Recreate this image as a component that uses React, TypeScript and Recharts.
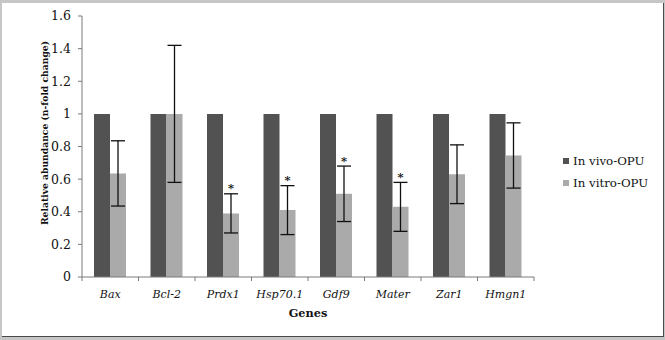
import React from 'react';
import { BarChart, Bar, XAxis, YAxis, ErrorBar, LabelList, Legend } from 'recharts';

// Relative abundance of transcripts (fold change vs. in vivo-OPU)
const genes = ['Bax', 'Bcl-2', 'Prdx1', 'Hsp70.1', 'Gdf9', 'Mater', 'Zar1', 'Hmgn1'];
const inVivo = [1, 1, 1, 1, 1, 1, 1, 1];
const inVitro = [0.635, 1.0, 0.39, 0.41, 0.51, 0.43, 0.63, 0.745];
const inVitroErr = [0.2, 0.42, 0.12, 0.15, 0.17, 0.15, 0.18, 0.2];
const significant = [false, false, true, true, true, true, false, false];

const yTicks = [0, 0.2, 0.4, 0.6, 0.8, 1, 1.2, 1.4, 1.6];
const yTickLabels = ['0', '0.2', '0.4', '0.6', '0.8', '1', '1.2', '1.4', '1.6'];

const seriesNames = ['In vivo-OPU', 'In vitro-OPU'];
const DARK = '#525252';
const LIGHT = '#aaaaaa';
const AXIS = '#7a7a7a';
const FONT = 'DejaVu Serif';

const data = genes.map((g, i) => ({
  gene: g,
  vivo: inVivo[i],
  vitro: inVitro[i],
  err: inVitroErr[i],
}));

// Category tick: italic gene name plus boundary tick marks between groups
const GeneTick = (props: any) => {
  const { x, y, payload, index } = props;
  const half = payload?.offset ?? 0;
  const last = index === genes.length - 1;
  return (
    <g>
      <line x1={x - half} x2={x - half} y1={y} y2={y + 4} stroke={AXIS} strokeWidth={1} />
      {last && <line x1={x + half} x2={x + half} y1={y} y2={y + 4} stroke={AXIS} strokeWidth={1} />}
      <text
        x={x}
        y={y + 13}
        dy="0.71em"
        textAnchor="middle"
        style={{ fontFamily: FONT, fontStyle: 'italic', fontSize: 11 }}
        fill="#111"
      >
        {payload.value}
      </text>
    </g>
  );
};

// Asterisk placed just above the upper whisker of significant bars
const Star = (props: any) => {
  const vb = props.viewBox ?? props;
  const index = props.index;
  if (!significant[index]) return null;
  const value = inVitro[index];
  const x = vb.x;
  const w = vb.width;
  const top = Math.min(vb.y, vb.y + vb.height);
  const h = Math.abs(vb.height);
  const bottom = top + h;
  const perUnit = h / value;
  const whiskerTop = bottom - (value + inVitroErr[index]) * perUnit;
  return (
    <text
      x={x + w / 2}
      y={whiskerTop - 1.5}
      textAnchor="middle"
      style={{ fontFamily: FONT, fontWeight: 'bold', fontSize: 11.5 }}
      fill="#111"
    >
      *
    </text>
  );
};

const LegendBox = () => (
  <div style={{ fontFamily: FONT, fontSize: 11.8, color: '#111' }}>
    {seriesNames.map((name, i) => (
      <div key={name} style={{ display: 'flex', alignItems: 'center', height: 22 }}>
        <span
          style={{
            display: 'inline-block',
            width: 6,
            height: 6,
            background: i === 0 ? DARK : LIGHT,
            marginRight: 4,
          }}
        />
        <span>{name}</span>
      </div>
    ))}
  </div>
);

export default function App() {
  return (
    <div style={{ position: 'absolute', left: 0, top: 0, width: 665, height: 340, background: '#c6c6c6', fontFamily: FONT }}>
      <div
        style={{
          position: 'absolute',
          left: 2,
          top: 3,
          width: 661,
          height: 333,
          background: '#fff',
          borderRight: '1px solid #4a4a4a',
          borderBottom: '1px solid #4a4a4a',
        }}
      />
      <div style={{ position: 'absolute', left: 0, top: 0 }}>
        <BarChart
          width={665}
          height={340}
          data={data}
          margin={{ top: 16, right: 131, bottom: 0, left: 0 }}
          barGap={0}
          barSize={16}
          style={{ fontFamily: FONT }}
        >
          <XAxis
            dataKey="gene"
            height={63}
            stroke={AXIS}
            tickLine={false}
            tickSize={0}
            tickMargin={0}
            tick={<GeneTick />}
            interval={0}
            label={{
              content: (p: any) => {
                const vb = p.viewBox;
                return (
                  <text
                    x={vb.x + vb.width / 2}
                    y={vb.y + 40}
                    textAnchor="middle"
                    style={{ fontFamily: FONT, fontWeight: 'bold', fontSize: 11.3 }}
                    fill="#111"
                  >
                    Genes
                  </text>
                );
              },
            }}
          />
          <YAxis
            width={82}
            domain={[0, 1.6]}
            ticks={yTicks}
            tickFormatter={(v: number) => yTickLabels[yTicks.indexOf(v)] ?? String(v)}
            stroke={AXIS}
            tickSize={4}
            tickMargin={7}
            tick={{ fontSize: 12.5, fill: '#111', style: { fontFamily: FONT } }}
            interval={0}
            label={{
              content: () => (
                <text
                  x={0}
                  y={0}
                  transform="translate(48, 133) rotate(-90)"
                  textAnchor="middle"
                  style={{ fontFamily: FONT, fontWeight: 'bold', fontSize: 9.2 }}
                  fill="#111"
                >
                  Relative abundance (n-fold change)
                </text>
              ),
            }}
          />
          <Legend
            layout="vertical"
            align="center"
            verticalAlign="middle"
            content={<LegendBox />}
            wrapperStyle={{ left: 563, top: 150, width: 100 }}
          />
          <Bar dataKey="vivo" name={seriesNames[0]} fill={DARK} isAnimationActive={false} />
          <Bar dataKey="vitro" name={seriesNames[1]} fill={LIGHT} isAnimationActive={false}>
            <ErrorBar dataKey="err" width={7} stroke="#111" strokeWidth={1.3} />
            <LabelList dataKey="vitro" content={<Star />} />
          </Bar>
        </BarChart>
      </div>
    </div>
  );
}
